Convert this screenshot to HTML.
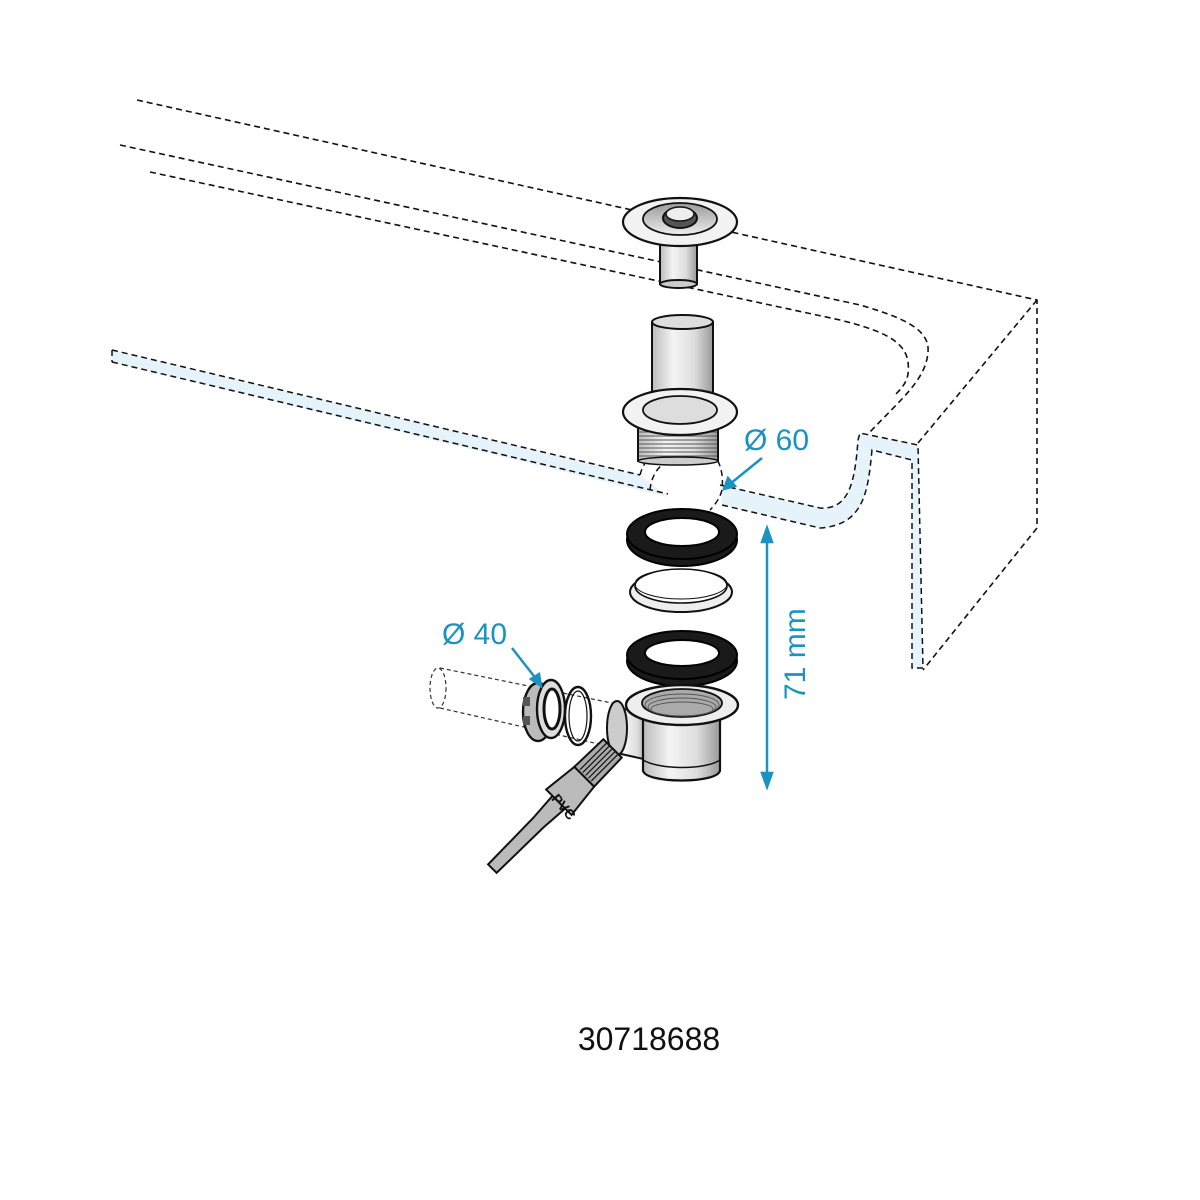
<!DOCTYPE html>
<html><head><meta charset="utf-8"><style>html,body{margin:0;padding:0;background:#fff}svg{display:block}</style></head><body>
<svg width="1200" height="1200" viewBox="0 0 1200 1200" xmlns="http://www.w3.org/2000/svg">
<defs>
<linearGradient id="m" x1="0" x2="1"><stop offset="0" stop-color="#bbb"/><stop offset="0.35" stop-color="#f4f4f4"/><stop offset="0.7" stop-color="#ddd"/><stop offset="1" stop-color="#999"/></linearGradient>
<linearGradient id="in" x1="0" y1="0" x2="0" y2="1"><stop offset="0" stop-color="#999"/><stop offset="1" stop-color="#eee"/></linearGradient>
</defs>
<g fill="none" stroke="#111" stroke-width="1.6" stroke-dasharray="6,4">
<path d="M137 100 L1037 300 L1037 528 L923 670"/>
<path d="M1037 300 L918 443"/>
<path d="M120 145 L860 305 C905 318 930 330 928 352 C926 380 900 400 870 432"/>
<path d="M150 172 L840 320 C880 330 905 340 908 362 C910 378 905 385 895 395"/>
</g>
<path d="M112 350 L640 475 L668 497 L112 362 Z" fill="#e6f3fa"/>
<path d="M720 485 L820 508 C850 510 855 480 858 440 L860 433 L918 445 L923 668 L912 668 L912 460 L872 450 C868 490 865 525 820 528 L722 505 Z" fill="#e6f3fa"/>
<g fill="none" stroke="#111" stroke-width="1.5" stroke-dasharray="6,4">
<path d="M112 350 L640 475"/>
<path d="M112 362 L668 494"/>
<path d="M112 350 L112 362"/>
<path d="M720 485 L820 508 C850 510 855 480 858 440 L860 433 L918 445 L923 668 L912 668 L912 460 L872 450 C868 490 865 525 820 528 L722 505"/>
<path d="M640 475 C645 455 665 440 690 442 C712 445 725 462 722 490 C720 498 715 505 710 510"/>
<path d="M650 490 C652 468 668 455 690 456"/>
</g>
<rect x="660" y="232" width="37" height="52" fill="url(#m)" stroke="#111" stroke-width="2"/>
<ellipse cx="678.5" cy="284" rx="18.5" ry="4" fill="#ccc" stroke="#111" stroke-width="2"/>
<ellipse cx="680" cy="222" rx="57" ry="24" fill="#f2f2f2" stroke="#111" stroke-width="2.2"/>
<ellipse cx="680" cy="219" rx="37" ry="16" fill="url(#in)" stroke="#111" stroke-width="1.8"/>
<ellipse cx="680" cy="218" rx="17" ry="10" fill="#555" stroke="#111" stroke-width="2"/>
<ellipse cx="680" cy="214" rx="14" ry="7" fill="#eee" stroke="#111" stroke-width="1.5"/>
<rect x="652" y="322" width="61" height="72" fill="url(#m)" stroke="#111" stroke-width="2"/>
<ellipse cx="682.5" cy="322" rx="30.5" ry="7" fill="#ddd" stroke="#111" stroke-width="2"/>
<rect x="638" y="425" width="80" height="36" fill="url(#m)" stroke="#111" stroke-width="2"/>
<g stroke="#555" stroke-width="1"><path d="M639 432H717M639 436H717M639 440H717M639 444H717M639 448H717M639 452H717M639 456H717"/></g>
<ellipse cx="678" cy="461" rx="40" ry="4" fill="#ccc" stroke="#111" stroke-width="1.5"/>
<ellipse cx="680" cy="412" rx="57" ry="23" fill="#f2f2f2" stroke="#111" stroke-width="2.2"/>
<ellipse cx="680" cy="410" rx="37" ry="14" fill="#ddd" stroke="#111" stroke-width="1.8"/>
<ellipse cx="682" cy="540" rx="55" ry="26" fill="#1a1a1a" stroke="#000" stroke-width="2"/>
<ellipse cx="682" cy="534" rx="55" ry="25" fill="#1a1a1a" stroke="#000" stroke-width="2"/>
<ellipse cx="682" cy="532" rx="37" ry="14" fill="#fff" stroke="#000" stroke-width="2"/>
<ellipse cx="681" cy="592" rx="51" ry="20" fill="#eee" stroke="#111" stroke-width="2"/>
<ellipse cx="681" cy="586" rx="46" ry="17" fill="#fff" stroke="#111" stroke-width="1.6"/>
<ellipse cx="681" cy="584" rx="46" ry="15" fill="none" stroke="#111" stroke-width="1"/>
<ellipse cx="682" cy="661" rx="55" ry="25" fill="#1a1a1a" stroke="#000" stroke-width="2"/>
<ellipse cx="682" cy="655" rx="55" ry="24" fill="#1a1a1a" stroke="#000" stroke-width="2"/>
<ellipse cx="682" cy="653" rx="37" ry="13" fill="#fff" stroke="#000" stroke-width="2"/>
<g fill="none" stroke="#333" stroke-width="1.2" stroke-dasharray="4,3">
<ellipse cx="438" cy="688" rx="8" ry="20"/>
<path d="M440 668 L612 703 M440 708 L612 747"/>
</g>
<path d="M612 712 L648 705 L648 760 L612 752 Z" fill="url(#m)" stroke="#111" stroke-width="2"/>
<ellipse cx="617" cy="728" rx="10" ry="27" fill="#ccc" stroke="#111" stroke-width="2"/>
<path d="M643 712 L643 770 C643 784 720 784 720 770 L720 712 Z" fill="url(#m)" stroke="#111" stroke-width="2.2"/>
<path d="M643 760 C660 770 705 770 720 760" fill="none" stroke="#111" stroke-width="1.5"/>
<ellipse cx="682" cy="705" rx="56" ry="20" fill="#eee" stroke="#111" stroke-width="2.4"/>
<ellipse cx="682" cy="703" rx="40" ry="14" fill="#aaa" stroke="#111" stroke-width="1.8"/>
<g fill="none" stroke="#555" stroke-width="0.9"><ellipse cx="682" cy="705" rx="37" ry="11"/><ellipse cx="682" cy="707" rx="34" ry="9"/><ellipse cx="682" cy="709" rx="31" ry="7"/></g>
<ellipse cx="538" cy="712" rx="15" ry="29" fill="#bbb" stroke="#111" stroke-width="2.4"/>
<rect x="523" y="697" width="7" height="9" fill="#555"/><rect x="523" y="716" width="7" height="9" fill="#555"/>
<ellipse cx="551" cy="709" rx="14" ry="29" fill="#ddd" stroke="#111" stroke-width="2.4"/>
<ellipse cx="552" cy="709" rx="8" ry="20" fill="#fff" stroke="#111" stroke-width="3"/>
<ellipse cx="578" cy="716" rx="13" ry="29" fill="none" stroke="#111" stroke-width="2.4"/>
<ellipse cx="578" cy="716" rx="9" ry="25" fill="none" stroke="#111" stroke-width="1.2"/>
<g transform="translate(556,805) rotate(45)">
<path d="M-9 -4 L9 -4 L7 25 L6 90 L-6 90 L-7 25 Z" fill="#bbb" stroke="#111" stroke-width="2"/>
<path d="M-14 -40 L14 -40 L18 -4 L-18 -4 Z" fill="#bbb" stroke="#111" stroke-width="2"/>
<path d="M-13 -80 L13 -80 L14 -40 L-14 -40 Z" fill="#aaa" stroke="#111" stroke-width="2"/>
<g stroke="#111" stroke-width="1.2"><path d="M-8 -80V-42M-4 -80V-42M0 -80V-42M4 -80V-42M8 -80V-42"/></g>
</g>
<text transform="translate(560,810) rotate(50)" font-family="Liberation Sans, sans-serif" font-size="14" font-weight="bold" fill="#111" text-anchor="middle">PVC</text>
<g fill="#1b93c0" font-family="Liberation Sans, sans-serif">
<text x="744" y="450" font-size="30">Ø 60</text>
<text x="442" y="644" font-size="30">Ø 40</text>
<text transform="translate(805,700) rotate(-90)" font-size="30">71 mm</text>
</g>
<g stroke="#1b93c0" stroke-width="2.5" fill="#1b93c0">
<line x1="762" y1="458" x2="730" y2="484"/><path d="M724 489 L728 478 L735 486 Z"/>
<line x1="512" y1="648" x2="537" y2="680"/><path d="M541 686 L531 679 L539 674 Z"/>
<line x1="767" y1="540" x2="767" y2="775"/><path d="M767 528 L762 542 L772 542 Z"/><path d="M767 787 L762 773 L772 773 Z"/>
</g>
<text x="649" y="1050" font-family="Liberation Sans, sans-serif" font-size="32" fill="#111" text-anchor="middle">30718688</text>
</svg>
</body></html>
